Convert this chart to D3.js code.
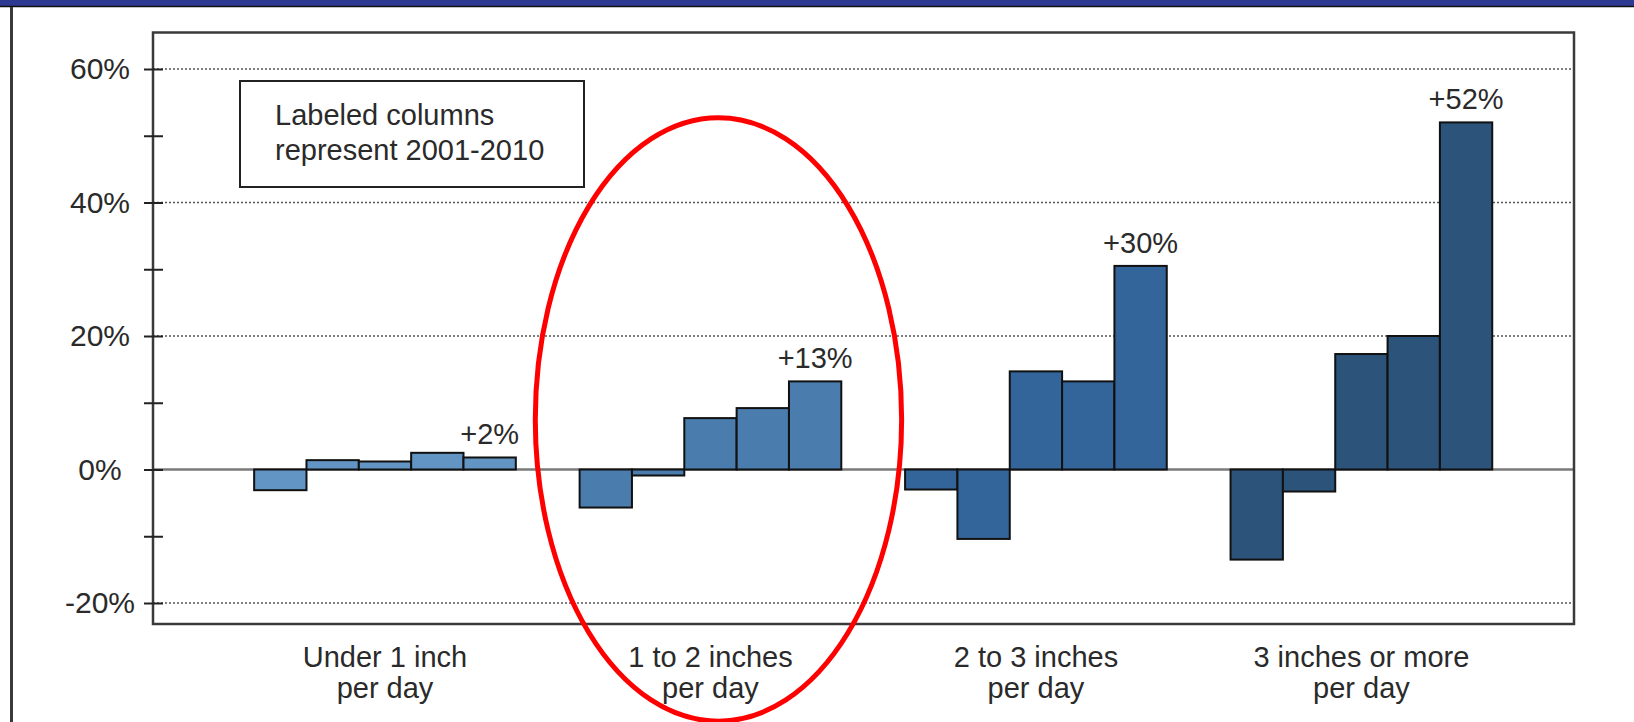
<!DOCTYPE html>
<html><head><meta charset="utf-8">
<script src="https://cdn.jsdelivr.net/npm/d3@7"></script>
<style>
body{margin:0;background:#fff;}
svg{display:block;}
text{font-family:"Liberation Sans",Arial,Helvetica,sans-serif;fill:#2a2a2a;}
</style>
</head><body>
<svg id="chart" width="1634" height="722"></svg>
<script>
// ---- data ----
const categories = ["Under 1 inch per day", "1 to 2 inches per day", "2 to 3 inches per day", "3 inches or more per day"];
const categoryLines = [["Under 1 inch", "per day"], ["1 to 2 inches", "per day"], ["2 to 3 inches", "per day"], ["3 inches or more", "per day"]];
const periods = ["1961-1970", "1971-1980", "1981-1990", "1991-2000", "2001-2010"];
const underOneInch = [-3.1, 1.4, 1.2, 2.5, 1.8];
const oneToTwoInches = [-5.7, -0.9, 7.7, 9.2, 13.2];
const twoToThreeInches = [-3.0, -10.4, 14.7, 13.2, 30.5];
const threeOrMoreInches = [-13.5, -3.3, 17.3, 20.0, 52.0];
const labeledValues = ["+2%", "+13%", "+30%", "+52%"];
const yTicks = [-20, -10, 0, 10, 20, 30, 40, 50, 60];
const yTickLabels = ["-20%", "", "0%", "", "20%", "", "40%", "", "60%"];
const gridValues = [-20, 20, 40, 60];
const groupColors = ["#6295c3", "#4a7cad", "#33659b", "#2c5379"];
const legendLines = ["Labeled columns", "represent 2001-2010"];

const seriesByCategory = [underOneInch, oneToTwoInches, twoToThreeInches, threeOrMoreInches];

// ---- layout ----
const W = 1634, H = 722;
const P = {left: 153, right: 1574, top: 32.5, bottom: 624};
const svg = d3.select("#chart");

// page frame: navy top band and left rule
svg.append("rect").attr("x", 0).attr("y", 0).attr("width", W).attr("height", 6.5).attr("fill", "#2e3a91");
svg.append("line").attr("x1", 0).attr("x2", W).attr("y1", 6.5).attr("y2", 6.5).attr("stroke", "#111").attr("stroke-width", 1.5);
svg.append("line").attr("x1", 11.5).attr("x2", 11.5).attr("y1", 7).attr("y2", H).attr("stroke", "#3a3a3a").attr("stroke-width", 3);

// ---- scales ----
const y = d3.scaleLinear().domain([-20, 60]).range([603, 69]);
const x = d3.scaleBand().domain(categories).range([P.left, P.right])
  .paddingInner(0.196).paddingOuter(0.281).align(0.553);
const xi = d3.scaleBand().domain(periods).range([0, x.bandwidth()]).padding(0);

// gridlines
svg.append("g").selectAll("line").data(gridValues).join("line")
  .attr("x1", P.left).attr("x2", P.right)
  .attr("y1", d => y(d)).attr("y2", d => y(d))
  .attr("stroke", "#555").attr("stroke-width", 1.6).attr("stroke-dasharray", "2,2");

// zero line
svg.append("line").attr("x1", P.left).attr("x2", P.right)
  .attr("y1", y(0)).attr("y2", y(0))
  .attr("stroke", "#7a7a7a").attr("stroke-width", 2.5);

// bars
const groups = svg.append("g").selectAll("g").data(categories).join("g")
  .attr("transform", d => `translate(${x(d)},0)`);
groups.each(function(cat, ci) {
  d3.select(this).selectAll("rect").data(seriesByCategory[ci]).join("rect")
    .attr("x", (v, i) => xi(periods[i]))
    .attr("width", xi.bandwidth())
    .attr("y", v => y(Math.max(0, v)))
    .attr("height", v => Math.abs(y(v) - y(0)))
    .attr("fill", groupColors[ci])
    .attr("stroke", "#111").attr("stroke-width", 2);
});

// labels over the 2001-2010 columns
svg.append("g").selectAll("text").data(categories).join("text")
  .attr("x", (c) => x(c) + xi(periods[periods.length - 1]) + xi.bandwidth() / 2)
  .attr("y", (c, i) => y(seriesByCategory[i][periods.length - 1]) - 13)
  .attr("text-anchor", "middle").attr("font-size", 29)
  .text((c, i) => labeledValues[i]);

// plot frame
svg.append("rect").attr("x", P.left).attr("y", P.top)
  .attr("width", P.right - P.left).attr("height", P.bottom - P.top)
  .attr("fill", "none").attr("stroke", "#3a3a3a").attr("stroke-width", 2.5);

// y axis
const yAxis = d3.axisLeft(y).tickValues(yTicks).tickSize(9)
  .tickFormat((d, i) => yTickLabels[i]);
const ya = svg.append("g").attr("transform", `translate(${P.left},0)`).call(yAxis);
ya.select(".domain").remove();
ya.selectAll(".tick line").attr("x1", 10).attr("stroke", "#222").attr("stroke-width", 2);
ya.selectAll(".tick text").attr("x", -53).attr("text-anchor", "middle")
  .attr("font-size", 30).attr("font-family", null).attr("fill", "#2a2a2a");

// category labels
const cl = svg.append("g").selectAll("text").data(categories).join("text")
  .attr("text-anchor", "middle").attr("font-size", 29)
  .attr("transform", c => `translate(${x(c) + x.bandwidth() / 2},0)`);
cl.selectAll("tspan").data((c, i) => categoryLines[i]).join("tspan")
  .attr("x", 0).attr("y", (t, j) => j === 0 ? 667 : 698).text(t => t);

// legend box
const lg = svg.append("g");
lg.append("rect").attr("x", 240).attr("y", 81).attr("width", 344).attr("height", 106)
  .attr("fill", "#fff").attr("stroke", "#222").attr("stroke-width", 2);
lg.selectAll("text").data(legendLines).join("text")
  .attr("x", 275).attr("y", (d, i) => 125 + i * 35)
  .attr("font-size", 29).text(d => d);

// red highlight ellipse around the "1 to 2 inches" group
const hc = categories[1];
svg.append("ellipse")
  .attr("cx", x(hc) + x.bandwidth() / 2 + 8)
  .attr("cy", y(7.5))
  .attr("rx", x.bandwidth() * 0.7)
  .attr("ry", (y(-20) - y(60)) * 0.565)
  .attr("fill", "none").attr("stroke", "#f00").attr("stroke-width", 5);
</script>
</body></html>
